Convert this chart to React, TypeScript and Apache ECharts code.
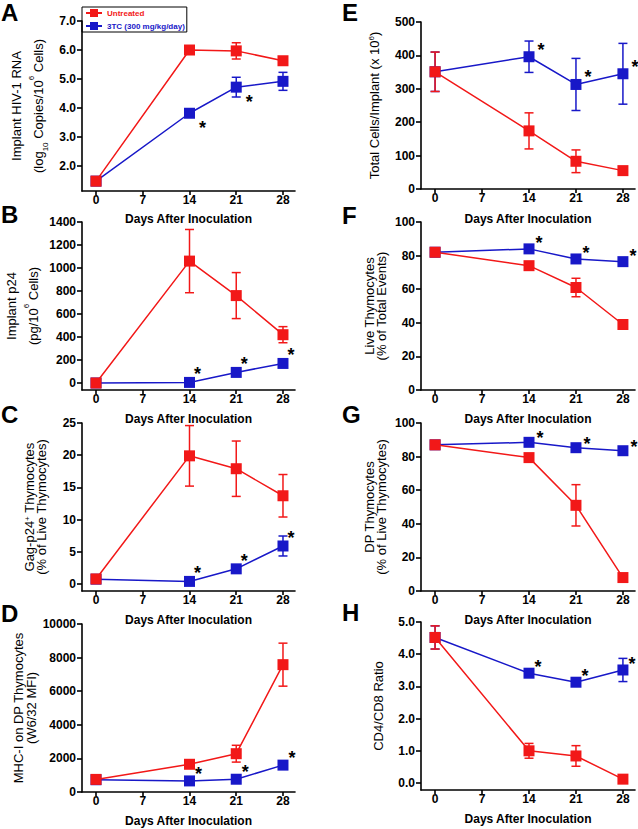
import React, { useEffect, useRef } from 'react';
import * as echarts from 'echarts';

const RED = '#f21818';
const BLUE = '#1818c8';
const FONT = '"Liberation Sans", Arial, Helvetica, sans-serif';

// ---------- data ----------
const days = [0, 14, 21, 28];
const dayTicks = [0, 7, 14, 21, 28];
const xTitle = 'Days After Inoculation';
const legendNames = ['Untreated', '3TC (300 mg/kg/day)'];

// A: Implant HIV-1 RNA (log10 copies / 10^6 cells)
const rnaUntreated = [1.48, 6.0, 5.97, 5.63];
const rnaUntreatedErr = [0.05, 0.08, 0.28, 0.1];
const rna3TC = [1.48, 3.82, 4.72, 4.92];
const rna3TCErr = [0.05, 0.1, 0.34, 0.31];
const rnaStars = [14, 21];
const rnaTicks = [2, 3, 4, 5, 6, 7];

// B: Implant p24 (pg / 10^6 cells)
const p24Untreated = [0, 1060, 760, 420];
const p24UntreatedErr = [10, 275, 200, 70];
const p243TC = [0, 5, 92, 170];
const p243TCErr = [5, 8, 20, 25];
const p24Stars = [14, 21, 28];
const p24Ticks = [0, 200, 400, 600, 800, 1000, 1200, 1400];

// C: Gag-p24+ thymocytes (% of live thymocytes)
const gagUntreated = [0.78, 19.9, 17.9, 13.7];
const gagUntreatedErr = [0.2, 4.7, 4.3, 3.3];
const gag3TC = [0.75, 0.4, 2.35, 5.9];
const gag3TCErr = [0.2, 0.2, 0.5, 1.55];
const gagStars = [14, 21, 28];
const gagTicks = [0, 5, 10, 15, 20, 25];

// D: MHC-I on DP thymocytes (W6/32 MFI)
const mhcUntreated = [750, 1650, 2280, 7580];
const mhcUntreatedErr = [60, 120, 500, 1280];
const mhc3TC = [730, 660, 760, 1600];
const mhc3TCErr = [60, 80, 100, 150];
const mhcStars = [14, 21, 28];
const mhcTicks = [0, 2000, 4000, 6000, 8000, 10000];

// E: Total cells / implant (x 10^6)
const cellsUntreated = [351, 174, 83, 55];
const cellsUntreatedErr = [59, 54, 34, 8];
const cells3TC = [351, 396, 313, 345];
const cells3TCErr = [59, 47, 78, 91];
const cellsStars = [14, 21, 28];
const cellsTicks = [0, 100, 200, 300, 400, 500];

// F: Live thymocytes (% of total events)
const liveUntreated = [82, 74, 61, 39];
const liveUntreatedErr = [1.5, 1.5, 5.5, 2];
const live3TC = [82, 84, 78, 76.4];
const live3TCErr = [1, 1, 1, 1];
const liveStars = [14, 21, 28];
const pctTicks = [0, 20, 40, 60, 80, 100];

// G: DP thymocytes (% of live thymocytes)
const dpUntreated = [87, 79.4, 51, 8];
const dpUntreatedErr = [1, 1.5, 12.3, 1.5];
const dp3TC = [87, 88.5, 85.3, 83.5];
const dp3TCErr = [1, 1, 1, 1];
const dpStars = [14, 21, 28];

// H: CD4/CD8 ratio
const ratioUntreated = [4.52, 1.0, 0.84, 0.12];
const ratioUntreatedErr = [0.36, 0.23, 0.32, 0.05];
const ratio3TC = [4.52, 3.41, 3.13, 3.51];
const ratio3TCErr = [0.36, 0.05, 0.05, 0.36];
const ratioStars = [14, 21, 28];
const ratioTicks = [0, 1, 2, 3, 4, 5];

// ---------- panels (layout + data refs) ----------
type Panel = {
  letter: string;
  un: number[]; unErr: number[]; tc: number[]; tcErr: number[]; stars: number[];
  ticks: number[]; dec: number; yMin: number; yMax: number;
  name: string; nameGap: number; lh: number;
  left: number; top: number; width: number; height: number; xGap: number;
  letterX: number; letterY: number; star: [number, number];
};

const panels: Panel[] = [
  { letter: 'A', un: rnaUntreated, unErr: rnaUntreatedErr, tc: rna3TC, tcErr: rna3TCErr, stars: rnaStars,
    ticks: rnaTicks, dec: 1, yMin: 1.14, yMax: 7,
    name: '{t|Implant HIV-1 RNA}\n{t|(log}{sub|10}{t| Copies/10}{sup|6}{t| Cells)}', nameGap: 33, lh: 21.5,
    left: 82, top: 21, width: 213, height: 170, xGap: 22, letterX: 1, letterY: 12, star: [13, 15] },
  { letter: 'B', un: p24Untreated, unErr: p24UntreatedErr, tc: p243TC, tcErr: p243TCErr, stars: p24Stars,
    ticks: p24Ticks, dec: 0, yMin: -61, yMax: 1400,
    name: '{t|Implant p24}\n{t|(pg/10}{sup|6}{t| Cells)}', nameGap: 38, lh: 21.5,
    left: 82, top: 222, width: 213, height: 168, xGap: 23, letterX: 1, letterY: 214, star: [8, -8] },
  { letter: 'C', un: gagUntreated, unErr: gagUntreatedErr, tc: gag3TC, tcErr: gag3TCErr, stars: gagStars,
    ticks: gagTicks, dec: 0, yMin: -1.09, yMax: 25,
    name: '{t|Gag-p24}{sup|+}{t| Thymocytes}\n{t|(% of Live Thymocytes)}', nameGap: 34, lh: 12.3,
    left: 82, top: 423, width: 213, height: 168, xGap: 23, letterX: 1, letterY: 414, star: [8, -8] },
  { letter: 'D', un: mhcUntreated, unErr: mhcUntreatedErr, tc: mhc3TC, tcErr: mhc3TCErr, stars: mhcStars,
    ticks: mhcTicks, dec: 0, yMin: 0, yMax: 10000,
    name: '{t|MHC-I on DP Thymocytes}\n{t|(W6/32 MFI)}', nameGap: 41.5, lh: 13.7,
    left: 82, top: 624, width: 213, height: 168, xGap: 23, letterX: 1, letterY: 613, star: [9, -7] },
  { letter: 'E', un: cellsUntreated, unErr: cellsUntreatedErr, tc: cells3TC, tcErr: cells3TCErr, stars: cellsStars,
    ticks: cellsTicks, dec: 0, yMin: 0, yMax: 500,
    name: '{t|Total Cells/Implant (x 10}{sup|6}{t|)}', nameGap: 39, lh: 15,
    left: 421, top: 22, width: 214, height: 167, xGap: 24, letterX: 342, letterY: 12, star: [12, -7] },
  { letter: 'F', un: liveUntreated, unErr: liveUntreatedErr, tc: live3TC, tcErr: live3TCErr, stars: liveStars,
    ticks: pctTicks, dec: 0, yMin: 0, yMax: 100,
    name: '{t|Live Thymocytes}\n{t|(% of Total Events)}', nameGap: 33, lh: 12.3,
    left: 421, top: 222, width: 214, height: 168, xGap: 23, letterX: 342, letterY: 215, star: [10, -6] },
  { letter: 'G', un: dpUntreated, unErr: dpUntreatedErr, tc: dp3TC, tcErr: dp3TCErr, stars: dpStars,
    ticks: pctTicks, dec: 0, yMin: 0, yMax: 100,
    name: '{t|DP Thymocytes}\n{t|(% of Live Thymocytes)}', nameGap: 34, lh: 11.7,
    left: 421, top: 423, width: 214, height: 168, xGap: 23, letterX: 342, letterY: 414, star: [11, -4] },
  { letter: 'H', un: ratioUntreated, unErr: ratioUntreatedErr, tc: ratio3TC, tcErr: ratio3TCErr, stars: ratioStars,
    ticks: ratioTicks, dec: 1, yMin: -0.217, yMax: 5,
    name: '{t|CD4/CD8 Ratio}', nameGap: 35.5, lh: 15,
    left: 421, top: 622, width: 214, height: 168, xGap: 23, letterX: 342, letterY: 612, star: [9, -6] },
];

function errRender(color: string) {
  return (params: any, api: any) => {
    const x = api.value(0);
    const lo = api.coord([x, api.value(1)]);
    const hi = api.coord([x, api.value(2)]);
    const w = 4.5;
    const style = { stroke: color, lineWidth: 1.5 };
    return {
      type: 'group',
      children: [
        { type: 'line', shape: { x1: lo[0], y1: lo[1], x2: hi[0], y2: hi[1] }, style },
        { type: 'line', shape: { x1: hi[0] - w, y1: hi[1], x2: hi[0] + w, y2: hi[1] }, style },
        { type: 'line', shape: { x1: lo[0] - w, y1: lo[1], x2: lo[0] + w, y2: lo[1] }, style },
      ],
    };
  };
}

function buildOption() {
  const grid: any[] = [];
  const xAxis: any[] = [];
  const yAxis: any[] = [];
  const series: any[] = [];
  const graphic: any[] = [];
  const axisLineStyle = { color: '#000', width: 1.6 };
  const labelStyle = { fontFamily: FONT, fontSize: 12, fontWeight: 'bold', color: '#000' };

  panels.forEach((p, i) => {
    grid.push({ left: p.left, top: p.top, width: p.width, height: p.height });
    xAxis.push({
      type: 'value', gridIndex: i, min: -2.1, max: 29.8,
      name: xTitle, nameLocation: 'middle', nameGap: p.xGap,
      nameTextStyle: { fontFamily: FONT, fontSize: 12, fontWeight: 'bold', color: '#000' },
      axisLine: { onZero: false, lineStyle: axisLineStyle },
      axisTick: { length: 4, customValues: dayTicks, lineStyle: axisLineStyle },
      axisLabel: { customValues: dayTicks, margin: 3, ...labelStyle },
      splitLine: { show: false },
    });
    const sub = { fontFamily: FONT, fontSize: 8, color: '#000', lineHeight: 13, verticalAlign: 'bottom' };
    const sup = { fontFamily: FONT, fontSize: 8, color: '#000', lineHeight: p.lh > 14 ? 13 : 8, verticalAlign: 'top' };
    yAxis.push({
      type: 'value', gridIndex: i, min: p.yMin, max: p.yMax,
      name: p.name, nameLocation: 'middle', nameGap: p.nameGap,
      nameTextStyle: {
        fontFamily: FONT, fontSize: 13, color: '#000', lineHeight: p.lh,
        rich: {
          t: { fontFamily: FONT, fontSize: 13, color: '#000', lineHeight: p.lh },
          sub, sup,
        },
      },
      axisLine: { onZero: false, lineStyle: axisLineStyle },
      axisTick: { length: 5, customValues: p.ticks, lineStyle: axisLineStyle },
      axisLabel: {
        customValues: p.ticks, margin: 6, ...labelStyle,
        formatter: (v: number) => (p.dec ? v.toFixed(p.dec) : String(Math.round(v))),
      },
      splitLine: { show: false },
    });

    // error bars (3TC under untreated)
    series.push({
      type: 'custom', xAxisIndex: i, yAxisIndex: i, z: 2, silent: true,
      data: days.map((d, k) => [d, p.tc[k] - p.tcErr[k], p.tc[k] + p.tcErr[k]]),
      encode: { x: 0, y: [1, 2] }, renderItem: errRender(BLUE),
    });
    series.push({
      type: 'custom', xAxisIndex: i, yAxisIndex: i, z: 2, silent: true,
      data: days.map((d, k) => [d, p.un[k] - p.unErr[k], p.un[k] + p.unErr[k]]),
      encode: { x: 0, y: [1, 2] }, renderItem: errRender(RED),
    });
    series.push({
      type: 'line', name: legendNames[1], xAxisIndex: i, yAxisIndex: i, z: 3,
      data: days.map((d, k) => [d, p.tc[k]]),
      symbol: 'rect', symbolSize: 11,
      itemStyle: { color: BLUE }, lineStyle: { color: BLUE, width: 1.5 },
    });
    series.push({
      type: 'line', name: legendNames[0], xAxisIndex: i, yAxisIndex: i, z: 4,
      data: days.map((d, k) => [d, p.un[k]]),
      symbol: 'rect', symbolSize: 11,
      itemStyle: { color: RED }, lineStyle: { color: RED, width: 1.5 },
    });
    const [dx, dy] = p.star;
    series.push({
      type: 'custom', xAxisIndex: i, yAxisIndex: i, z: 5, silent: true,
      data: p.stars.map((d) => [d, p.tc[days.indexOf(d)]]),
      encode: { x: 0, y: 1 },
      renderItem: (params: any, api: any) => {
        const c = api.coord([api.value(0), api.value(1)]);
        return {
          type: 'text', x: c[0] + dx, y: c[1] + dy,
          style: { text: '*', fill: '#000', font: `bold 18px ${FONT}`, align: 'center', verticalAlign: 'middle' },
        };
      },
    });

    graphic.push({
      type: 'text', left: p.letterX, top: p.letterY - 12,
      style: { text: p.letter, fill: '#000', font: `bold 24px ${FONT}` },
    });
  });

  return {
    animation: false,
    backgroundColor: '#fff',
    grid, xAxis, yAxis, series, graphic,
    legend: {
      left: 82, top: 7, orient: 'vertical', itemGap: 5, itemWidth: 16, itemHeight: 10,
      padding: [2, 2, 2, 3], borderColor: '#000', borderWidth: 1,
      selectedMode: false,
      textStyle: { fontFamily: FONT, fontSize: 8, fontWeight: 'bold' },
      data: [
        { name: legendNames[0], textStyle: { color: RED } },
        { name: legendNames[1], textStyle: { color: BLUE } },
      ],
    },
  };
}

export default function App() {
  const ref = useRef<HTMLDivElement>(null);
  useEffect(() => {
    if (!ref.current) return;
    const chart = echarts.init(ref.current, undefined, { renderer: 'svg' });
    chart.setOption(buildOption() as any);
    return () => chart.dispose();
  }, []);
  return (
    <div
      ref={ref}
      style={{ position: 'fixed', left: 0, top: 0, width: 638, height: 829, background: '#fff' }}
    />
  );
}
